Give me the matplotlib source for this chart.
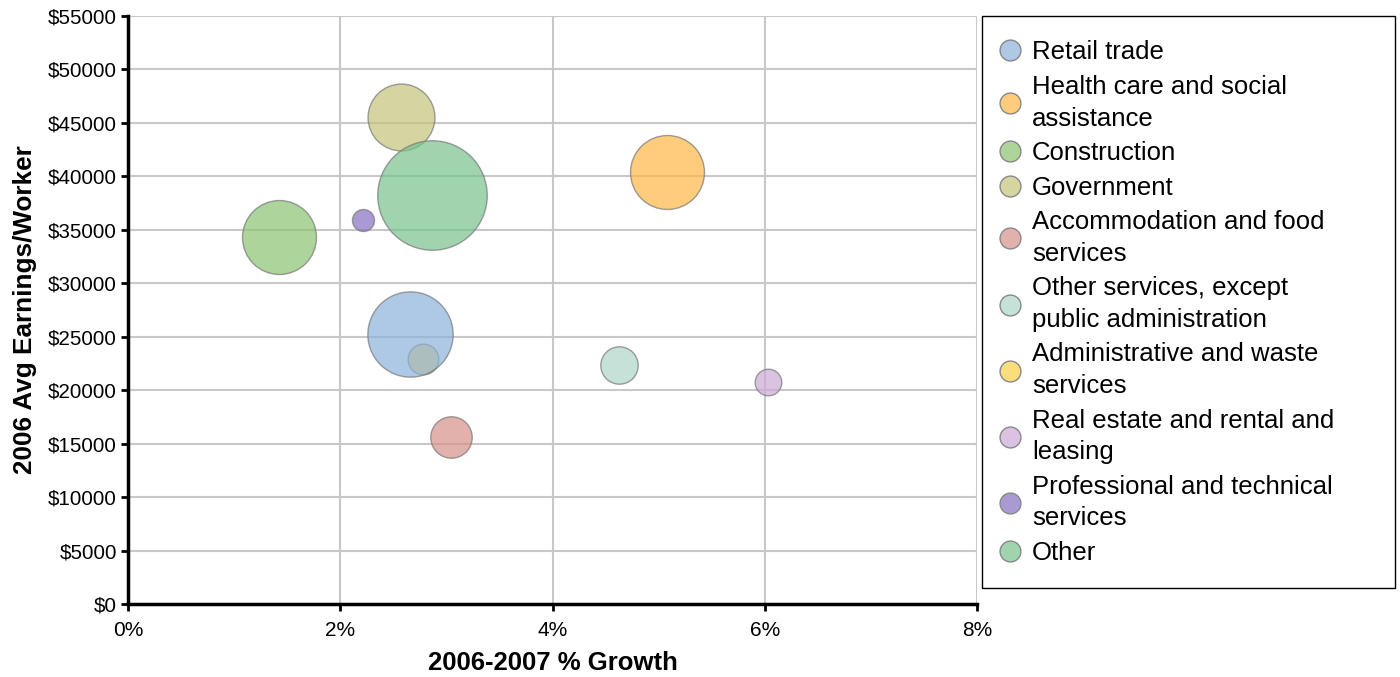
import matplotlib
matplotlib.use("Agg")
import matplotlib.pyplot as plt
from matplotlib import font_manager as fm
from matplotlib.lines import Line2D
from matplotlib.patches import Rectangle
from matplotlib.ticker import FuncFormatter, MultipleLocator

industries = ["Retail trade", "Health care and social\nassistance", "Construction",
              "Government", "Accommodation and food\nservices",
              "Other services, except\npublic administration",
              "Administrative and waste\nservices", "Real estate and rental and\nleasing",
              "Professional and technical\nservices", "Other"]
growth = [2.66, 5.08, 1.42, 2.57, 3.04, 4.63, 2.78, 6.03, 2.21, 2.86]
earnings = [25250, 40400, 34330, 45580, 15590, 22390, 22920, 20770, 35920, 38260]
workers = [1820, 1370, 1370, 1120, 430, 350, 235, 177, 121, 3000]
colors = ["#8ab2db", "#feb745", "#8ac36f", "#c5c279", "#d89089",
          "#abd6c7", "#fccf44", "#cda9d6", "#8770c2", "#76c28e"]
# admin bubble sits underneath retail in the original
layer = [4, 3, 3, 3, 3, 3, 2, 3, 3, 3]

names = {f.name for f in fm.fontManager.ttflist}
narrow = "Liberation Sans Narrow" if "Liberation Sans Narrow" in names else "Liberation Sans"
plt.rcParams["font.family"] = ["Liberation Sans", "DejaVu Sans"]

fig = plt.figure(figsize=(14, 6.77), dpi=100)
ax = fig.add_axes([0.0914, 0.1078, 0.6066, 0.8686])

for i in range(len(industries)):
    ax.scatter(growth[i], earnings[i], s=workers[i] * 2.07, color=colors[i], alpha=0.7,
               edgecolor="#777777", linewidth=1, zorder=layer[i])

ax.set_xlim(0, 8)
ax.set_ylim(0, 55000)
ax.xaxis.set_major_locator(MultipleLocator(2))
ax.yaxis.set_major_locator(MultipleLocator(5000))
ax.xaxis.set_major_formatter(FuncFormatter(lambda v, p: f"{v:.0f}%"))
ax.yaxis.set_major_formatter(FuncFormatter(lambda v, p: f"${v:.0f}"))
ax.grid(True, color="#c8c8c8", linewidth=1.5, zorder=0)
ax.set_axisbelow(True)
for s in ["top", "right"]:
    ax.spines[s].set_visible(False)
for s in ["left", "bottom"]:
    ax.spines[s].set_linewidth(2.5)
    ax.spines[s].set_zorder(5)
ax.tick_params(length=5, width=2, color="black")
ax.tick_params(axis="y", labelsize=14.8, pad=3)
ax.tick_params(axis="x", labelsize=15, pad=7)
for t in ax.get_xticklabels():
    t.set_family(narrow)

ax.set_xlabel("2006-2007 % Growth", fontsize=18.5, fontweight="bold", family=narrow, labelpad=8)
ax.set_ylabel("2006 Avg Earnings/Worker", fontsize=18.8, fontweight="bold", family=narrow, labelpad=8)

# legend frame drawn separately so the padding can differ top/left
fig.patches.append(Rectangle((0.7014, 0.1315), 0.295, 0.8449, transform=fig.transFigure,
                             facecolor="white", edgecolor="black", linewidth=1, zorder=0))

handles = [Line2D([], [], linestyle="none", marker="o", markersize=15,
                  markerfacecolor=matplotlib.colors.to_rgba(c, 0.7),
                  markeredgecolor="#888888", markeredgewidth=1) for c in colors]
leg = fig.legend(handles, industries, loc="upper left",
                 bbox_to_anchor=(0.7014, 0.0, 0.295, 0.9631), mode="expand",
                 fontsize=18.5, frameon=False, handletextpad=0.35, labelspacing=0.41,
                 borderpad=0.6, handlelength=1.0, borderaxespad=0)
for t in leg.get_texts():
    t.set_linespacing(1.4)

fig.savefig("out.png", dpi=100)
